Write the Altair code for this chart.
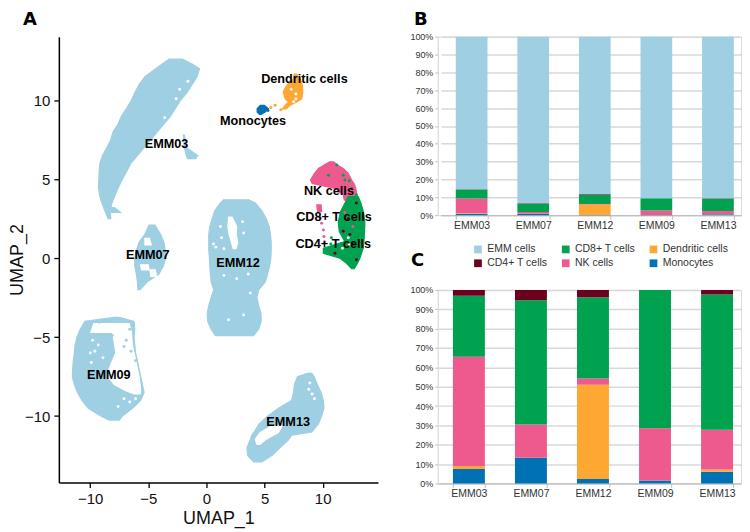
import altair as alt
import pandas as pd

# ---- panel A: cluster outlines, rows of (UMAP_2, UMAP_1 left, UMAP_1 right)
EMM03 = [(12.6,-3.23,-2.09),(12.3,-3.8,-1.23),(12,-4.37,-0.6),(11.5,-5.29,-0.8),(11,-5.8,-1.23),(10.5,-6.14,-1.66),(10,-6.46,-2.23),(9.5,-6.86,-2.66),(9,-7.31,-3.09),(8.5,-7.6,-3.66),(8,-8.03,-4.23),(7.5,-8.23,-4.8),(7,-8.57,-5.37),(6.5,-8.94,-5.94),(6,-9.17,-6.51),(5.5,-9.23,-6.86),(5,-9.26,-7.23),(4.5,-9.29,-7.57),(4,-9.2,-7.86),(3.5,-9,-8.14),(3,-8.74,-8.29),(2.5,-8.46,-8.23)]
EMM03_TAIL = [(3.2,-8.2,-7.9),(2.9,-8.2,-7.4)]
EMM03_BIT = [(7.79,-1.98,-1.9),(7,-1.89,-1.71),(6.5,-1.74,-0.74),(6.3,-1.6,-0.94)]
EMM07 = [(2.1,-4.94,-4.43),(1.5,-5.31,-3.94),(1,-5.8,-3.66),(0.5,-6.03,-3.54),(0,-6.17,-3.51),(-0.5,-6.17,-3.71),(-1,-6.03,-4.09),(-1.5,-5.94,-5.09),(-2,-5.89,-5.71)]
EMM09 = [(-3.75,-7.94,-7.51),(-4,-10.46,-6.23),(-4.5,-10.86,-6.17),(-5,-11.14,-6.23),(-5.5,-11.31,-6.17),(-6,-11.37,-6.09),(-6.5,-11.46,-5.94),(-7,-11.51,-5.8),(-7.5,-11.54,-5.66),(-8,-11.37,-5.51),(-8.5,-11.09,-5.37),(-9,-10.71,-5.66),(-9.5,-10.17,-6.37),(-10,-9.09,-7.23),(-10.25,-8.37,-7.51)]
EMM12 = [(3.7,1.49,3.63),(3.5,1.2,4.2),(3,0.71,4.77),(2.5,0.49,5.14),(2,0.29,5.4),(1.5,0.2,5.51),(1,0.2,5.57),(0.5,0.2,5.57),(0,0.26,5.54),(-0.5,0.29,5.43),(-1,0.34,5.26),(-1.5,0.4,5.06),(-2,0.63,4.49),(-2.5,0.4,4.34),(-3,0.2,4.49),(-3.5,0.06,4.69),(-4,0.11,4.71),(-4.5,0.4,4.49),(-4.9,0.77,4.06)]
EMM13 = [(-7.3,8.63,9.06),(-7.5,7.83,9.26),(-8,7.57,9.54),(-8.5,7.49,9.86),(-9,7.34,10.06),(-9.5,6.2,10.11),(-10,5.26,9.91),(-10.5,4.54,9.63),(-11,4.11,9.06),(-11.2,3.91,7.34),(-11.5,3.77,7.06),(-12,3.49,6.34),(-12.5,3.54,5.63),(-12.9,4.06,4.77)]
DENDRITIC = [(11.65,7.55,7.75),(11.37,7.49,8.06),(10.95,6.9,8.25),(10.52,6.6,8.29),(10.1,6.77,8.2),(9.89,7.06,7.77),(9.68,6.77,7.2),(9.46,6.54,6.86)]
MONOCYTES = [(9.68,4.63,4.97),(9.46,4.36,5.34),(9.26,4.36,5.06),(9.1,4.57,4.69)]
NK_ARC = [(6.1,10.6,10.95),(5.93,10.2,11.2),(5.68,9.63,11.77),(5.37,9.3,12.2),(4.95,8.95,12.49),(4.73,9.1,12.7),(4.42,11.06,12.85),(4,11.77,12.95),(3.68,11.86,12.5)]
NK_BIT = [(3.37,9.49,9.86),(2.95,9.57,9.91)]
CD8 = [(3.9,12.2,13.06),(3.47,11.91,13.3),(2.95,11.54,13.5),(2.31,11.34,13.63),(1.68,11.43,13.6),(1.05,11.91,13.55),(0.63,10.06,13.49),(0.31,10.06,13.34),(0,11.49,13.2),(-0.32,12.06,13),(-0.67,12.49,12.71)]
# gaps inside the clusters
GAP_09_TOP = [(-4.15,-9.7,-6.65),(-4.7,-9.95,-6.46)]
GAP_09_RIGHT = [(-4.7,-8.09,-6.46),(-5.5,-7.89,-6.37),(-6,-7.8,-6.23),(-6.5,-8.09,-6.09),(-7,-8.37,-5.94),(-7.5,-8.46,-5.8),(-8,-7.94,-5.71),(-8.4,-6.94,-5.66),(-8.6,-6.23,-5.71)]
GAP_07_A = [(1.26,-5.3,-4.9),(0.84,-5.3,-4.75)]
GAP_07_B = [(-0.42,-5.66,-5),(-0.74,-5.6,-4.94)]
GAP_07_C = [(-0.74,-4.86,-4.4),(-1.16,-4.8,-4.29)]
GAP_12 = [(2.6,1.9,2.2),(2,1.85,2.6),(1.5,1.95,2.55),(1,2.15,2.7),(0.6,2.3,2.55)]
GAP_13 = [(-10.63,5.6,6.49),(-11.05,4.6,6.2),(-11.48,4.2,5.1),(-11.8,4.34,4.6)]
DOTS_WHITE = [(0.6,0.9),(0.8,0.7),(1.2,2.0),(1.3,1.3),(1.5,0.6),(3.1,2.3),(3.2,1.6),(3.6,-1.0),(3.77,-2.2),(2.6,-1.3),(1.5,-1.1),(3.2,-3.6),(1.9,-3.9),(-10.0,-6),(-9.8,-5.2),(-9.6,-5.9),(-9.9,-6.6),(-9.3,-5.5),(-8.9,-6.3),(-7.1,-8.9),(-6.6,-9.1),(-6.1,-8.9),(-7.6,-9.4),(8.8,-8.3),(9.1,-8.6),(9.3,-8.9),(8.9,-7.9),(7.5,9.9),(7.7,10.4),(7.3,10.7),(7.7,10.1),(12.2,1.3),(11.7,0.63),(12.3,0.85),(-3.1,8.1),(-3.6,8.9),(-2.6,10.1),(-2.3,10.7),(-1.6,11.2),(-6.6,5.0)]
DOTS_BLUE = [(-9.2,-4.05),(-8.4,-4.0),(-6.6,-4.5),(-6.9,-5.2),(-7.1,-5.6),(-6.5,-5.9),(-6.1,-6.5),(-9.5,-4.9),(-9.0,-5.0),(-8.6,-5.1),(-9.1,-5.6),(-8.5,-5.8),(-8.7,-6.4),(-8.3,-5.0),(-8.3,-5.5),(-8.2,-6.1),(-9.3,-6.0),(-8.9,-5.3),(-8.7,-4.85),(-8.1,-4.9)]
DOTS_ORANGE = [(5.91,9.68),(5.54,9.54),(6.4,9.4)]
DOTS_MONO = [(5.3,9.35)]
DOTS_NK = [(9.77,2.57),(9.91,2.21),(10.06,1.79),(10.11,1.37),(10.14,1.0),(11.9,2.9),(12.6,2.0)]
DOTS_CD8 = [(11.2,5.9),(11.77,5.25),(11.91,4.95),(10.5,5.25),(12.49,4.42),(12.9,4.0),(12.3,4.9),(10.7,0.9),(10.75,1.3)]
DOTS_CD4 = [(11.77,1.7),(12.34,1.5),(12.2,2.5),(12.9,3.5),(11.06,0.31),(12.9,-0.1),(12.6,0.9)]

BLOBS = [
    ("a", "EMM cells", EMM03), ("b", "EMM cells", EMM03_TAIL), ("c", "EMM cells", EMM03_BIT),
    ("d", "EMM cells", EMM07), ("e", "EMM cells", EMM09), ("f", "EMM cells", EMM12), ("g", "EMM cells", EMM13),
    ("h", "gap", GAP_09_TOP), ("i", "gap", GAP_09_RIGHT), ("j", "gap", GAP_07_A), ("k", "gap", GAP_07_B),
    ("l", "gap", GAP_07_C), ("m", "gap", GAP_12), ("n", "gap", GAP_13),
    ("o", "Dendritic cells", DENDRITIC), ("p", "Monocytes", MONOCYTES),
    ("q", "NK cells", NK_ARC), ("r", "NK cells", NK_BIT), ("s", "CD8+ T cells", CD8),
]
DOT_SETS = [("gap", DOTS_WHITE), ("EMM cells", DOTS_BLUE), ("Dendritic cells", DOTS_ORANGE), ("Monocytes", DOTS_MONO),
            ("NK cells", DOTS_NK), ("CD8+ T cells", DOTS_CD8), ("CD4+ T cells", DOTS_CD4)]
LABEL_TEXT = ["EMM03", "EMM07", "EMM12", "EMM09", "EMM13", "Dendritic cells", "Monocytes", "NK cells", "CD8+ T cells", "CD4+ T cells"]
LABEL_X = [-3.43, -5.05, 2.72, -8.4, 7.03, 8.43, 4.0, 10.54, 10.97, 10.91]
LABEL_Y = [7.22, 0.2, -0.28, -7.37, -10.38, 11.35, 8.69, 4.25, 2.63, 0.88]

# ---- panels B and C
SAMPLES = ["EMM03", "EMM07", "EMM12", "EMM09", "EMM13"]
LEGEND_ORDER = ["EMM cells", "CD4+ T cells", "CD8+ T cells", "NK cells", "Dendritic cells", "Monocytes"]
LEGEND_COLOURS = ["#9ECFE2", "#6B001F", "#00A14F", "#EE5A8E", "#FFA733", "#0071B5"]
STACK_ORDER = ["Monocytes", "Dendritic cells", "NK cells", "CD8+ T cells", "CD4+ T cells", "EMM cells"]
B_MONO = [0.8, 0.7, 0.1, 0.1, 0.5]
B_DEND = [0.2, 0.1, 5.9, 0.0, 0.1]
B_NK = [8.3, 0.9, 0.2, 2.5, 1.7]
B_CD8 = [5.0, 4.7, 5.1, 6.9, 6.9]
B_CD4 = [0.2, 0.3, 0.4, 0.0, 0.2]
B_EMM = [85.5, 93.2, 88.3, 90.5, 90.5]
C_MONO = [7.5, 13.3, 2.3, 1.5, 6.0]
C_DEND = [1.5, 0.0, 48.7, 0.0, 1.2]
C_NK = [56.5, 17.2, 3.2, 27.0, 20.6]
C_CD8 = [31.5, 64.2, 42.0, 71.5, 69.9]
C_CD4 = [3.0, 5.3, 3.8, 0.0, 2.3]
PCT_TICKS = [0, 10, 20, 30, 40, 50, 60, 70, 80, 90, 100]

FONT = "Liberation Sans"
SCALE_COLOURS = LEGEND_ORDER + ["gap"]
SCALE_RANGE = LEGEND_COLOURS + ["#FFFFFF"]
colour_a = alt.Color("cell:N", scale=alt.Scale(domain=SCALE_COLOURS, range=SCALE_RANGE), legend=None)

rows = [{"part": p, "cell": c, "y": r[0], "x0": r[1], "x1": r[2], "n": i}
        for p, c, lst in BLOBS for i, r in enumerate(lst)]
dots = [{"cell": c, "x": d[0], "y": d[1]} for c, lst in DOT_SETS for d in lst]

xa = alt.Scale(domain=[-12.7, 14.76], nice=False, zero=False)
ya = alt.Scale(domain=[-14.2, 14.03], nice=False, zero=False)
axis_a = dict(grid=False, domainColor="#000000", domainWidth=1.5, tickColor="#000000", tickWidth=1.3, tickSize=5,
              labelFontSize=15, labelColor="#111111", labelFont=FONT, titleFont=FONT, titleFontSize=18,
              titleFontWeight="normal", titleColor="#111111", values=[-10, -5, 0, 5, 10])
AX_X = alt.Axis(title="UMAP_1", titlePadding=3, labelPadding=4, **axis_a)
AX_Y = alt.Axis(title="UMAP_2", titlePadding=-2, labelPadding=4, **axis_a)
x_a = alt.X("x0:Q", scale=xa, axis=AX_X)
y_a = alt.Y("y:Q", scale=ya, axis=AX_Y)

area_layers = []
for p, c, lst in BLOBS:
    area_layers.append(
        alt.Chart(pd.DataFrame([r for r in rows if r["part"] == p]))
        .mark_area(orient="horizontal", strokeWidth=1.2, interpolate="linear")
        .encode(x=x_a, x2="x1:Q", y=y_a, color=colour_a, stroke=alt.Stroke("cell:N", scale=alt.Scale(domain=SCALE_COLOURS, range=SCALE_RANGE), legend=None))
    )
dot_layer = (alt.Chart(pd.DataFrame(dots)).mark_circle(size=9, opacity=1)
             .encode(x=alt.X("x:Q", scale=xa, axis=AX_X), y=alt.Y("y:Q", scale=ya, axis=AX_Y), color=colour_a))
label_layer = (alt.Chart(pd.DataFrame({"t": LABEL_TEXT, "x": LABEL_X, "y": LABEL_Y}))
               .mark_text(font=FONT, fontWeight="bold", fontSize=12.7, color="#000000")
               .encode(x=alt.X("x:Q", scale=xa, axis=AX_X), y=alt.Y("y:Q", scale=ya, axis=AX_Y), text="t:N"))

def letter(s, px, py):
    return (alt.Chart(pd.DataFrame({"t": [s]}))
            .mark_text(font="DejaVu Sans", fontWeight="bold", fontSize=18, color="#000000", align="left", baseline="top")
            .encode(x=alt.value(px), y=alt.value(py), text="t:N"))

panel_a = (alt.layer(*area_layers, dot_layer, label_layer, letter("A", -36, -26))
           .properties(width=320, height=447, view=alt.ViewBackground(stroke="transparent")))

def stacked(values, xrange, pad_outer, band_align, legend, title_letter, lx, ly, height):
    recs = []
    for name, col in values:
        for s, v in zip(SAMPLES, col):
            recs.append({"sample": s, "cell": name, "value": v, "ord": STACK_ORDER.index(name)})
    legend_obj = (alt.Legend(orient="none", legendX=35, legendY=-46, columns=3, title=None, symbolType="square", symbolSize=60,
                             labelFontSize=10.5, labelFont=FONT, labelColor="#333333", columnPadding=13, rowPadding=3,
                             gridAlign="each", symbolStrokeWidth=0) if legend else None)
    bars = (alt.Chart(pd.DataFrame(recs)).mark_bar()
            .encode(
                x=alt.X("sample:N", sort=SAMPLES, title=None,
                        scale=alt.Scale(range=xrange, paddingInner=0.485, paddingOuter=pad_outer, align=band_align),
                        axis=alt.Axis(labelAngle=0, labelFontSize=10.5, labelFont=FONT, labelColor="#333333", tickBand="extent",
                                      domainColor="#BBBBBB", tickColor="#BBBBBB", tickSize=4, labelPadding=1, grid=False)),
                y=alt.Y("value:Q", stack="zero", title=None, scale=alt.Scale(domain=[0, 100], nice=False),
                        axis=alt.Axis(values=PCT_TICKS, labelExpr="datum.value + '%'", labelFontSize=9, labelFont=FONT,
                                      labelColor="#333333", gridColor="#D8D8D8", gridWidth=1.5, tickColor="#BBBBBB",
                                      domainColor="#DDDDDD", tickSize=3, labelPadding=2)),
                color=alt.Color("cell:N", scale=alt.Scale(domain=LEGEND_ORDER, range=LEGEND_COLOURS), legend=legend_obj),
                order=alt.Order("ord:Q"),
            ))
    return alt.layer(bars, letter(title_letter, lx, ly)).properties(width=304, height=height)

panel_b = stacked([("Monocytes", B_MONO), ("Dendritic cells", B_DEND), ("NK cells", B_NK), ("CD8+ T cells", B_CD8),
                   ("CD4+ T cells", B_CD4), ("EMM cells", B_EMM)], [3, 304], 0.18, 0.675, False, "B", -24, -26, 179)
panel_c = stacked([("Monocytes", C_MONO), ("Dendritic cells", C_DEND), ("NK cells", C_NK), ("CD8+ T cells", C_CD8),
                   ("CD4+ T cells", C_CD4)], [0, 304], 0.186, 0.654, True, "C", -27, -38, 194)

right = alt.vconcat(panel_b, panel_c, spacing=75, bounds="flush").resolve_scale(color="independent")
chart = (alt.hconcat(panel_a, right, spacing=60, bounds="flush")
         .resolve_scale(color="independent")
         .properties(padding={"left": 0, "top": 1, "right": 0, "bottom": 0}, background="#FFFFFF")
         .configure_view(stroke="#DDDDDD")
         .configure_axis(labelFont=FONT))
chart.save("out.html", embed_options={"renderer": "svg", "actions": False})
